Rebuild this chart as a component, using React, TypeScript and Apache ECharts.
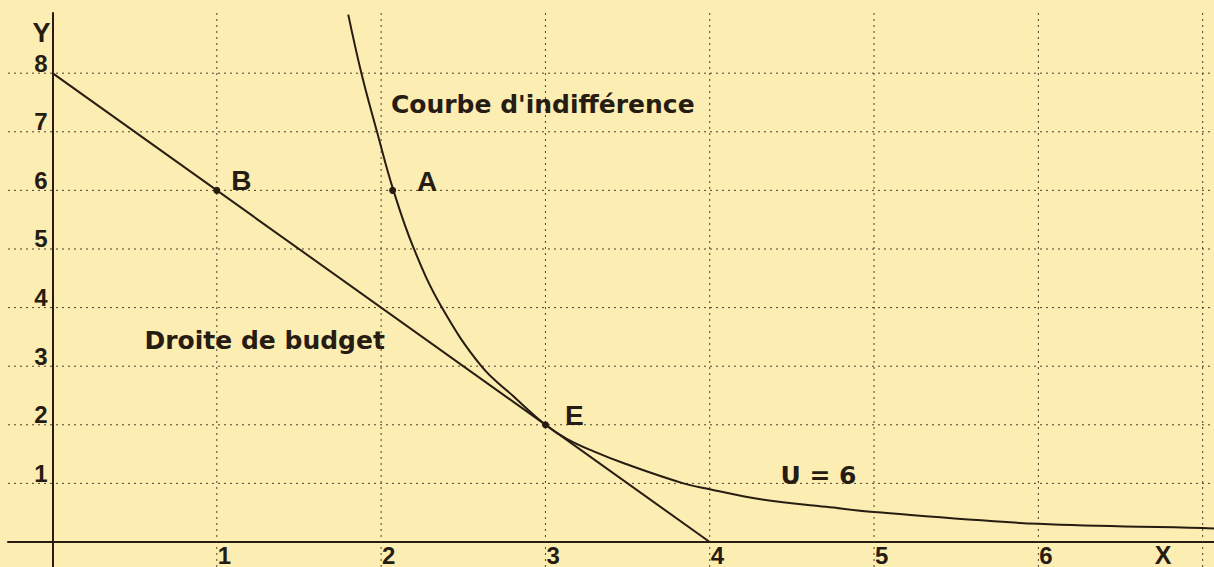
import React, { useEffect, useRef } from "react";
import * as echarts from "echarts";

const xTicks = [1, 2, 3, 4, 5, 6];
const yTicks = [1, 2, 3, 4, 5, 6, 7, 8];
const xGridValues = [1, 2, 3, 4, 5, 6, 7];
const yGridValues = [1, 2, 3, 4, 5, 6, 7, 8];
const xRange = [-0.2708, 7.069];
const yRange = [-0.4266, 9.027];

const budgetLine = [
  [0, 8],
  [4, 0],
];
const indifferenceCurve = [
  [1.8, 9.0],
  [1.88, 8.0],
  [1.975, 7.0],
  [2.075, 6.0],
  [2.2, 5.0],
  [2.37, 4.0],
  [2.61, 3.0],
  [2.8, 2.5],
  [3.0, 2.0],
  [3.13, 1.76],
  [3.29, 1.55],
  [3.49, 1.33],
  [3.84, 1.0],
  [4.0, 0.9],
  [4.31, 0.73],
  [4.71, 0.6],
  [5.0, 0.51],
  [6.0, 0.31],
  [7.0, 0.24],
  [7.07, 0.23],
];
const pointNames = ["B", "A", "E"];
const pointValues = [
  [1, 6],
  [2.07, 6],
  [3, 2],
];
const annotationTexts = ["Courbe d'indifférence", "Droite de budget", "U = 6"];
const annotationAnchors = [
  [2.06, 7.47],
  [0.56, 3.43],
  [4.43, 1.14],
];

const INK = "#261c12";
const PAPER = "#fcedb2";
const ARIAL = "'Liberation Sans', Arial, sans-serif";
const WIDE = "'DejaVu Sans', Verdana, sans-serif";

export default function App() {
  const ref = useRef<HTMLDivElement>(null);

  useEffect(() => {
    if (!ref.current) return;
    const chart = echarts.init(ref.current, null, { renderer: "svg" });

    const gridStyle = {
      color: "#3a2e1e",
      width: 1,
      type: [2, 4] as any,
      opacity: 0.9,
    };

    const vGrid = xGridValues.map((v) => ({
      type: "line",
      data: [
        [v, yRange[0]],
        [v, yRange[1]],
      ],
      symbol: "none",
      silent: true,
      lineStyle: gridStyle,
      z: 1,
    }));
    const hGrid = yGridValues.map((v) => ({
      type: "line",
      data: [
        [xRange[0], v],
        [xRange[1], v],
      ],
      symbol: "none",
      silent: true,
      lineStyle: gridStyle,
      z: 1,
    }));

    const textBase = {
      color: INK,
      fontWeight: "bold",
      opacity: 1,
    };

    chart.setOption({
      animation: false,
      backgroundColor: PAPER,
      grid: { left: 8, right: 0, top: 13, bottom: 0 },
      xAxis: {
        type: "value",
        min: xRange[0],
        max: xRange[1],
        name: "X",
        nameLocation: "end",
        nameGap: -51,
        nameTextStyle: {
          ...textBase,
          fontFamily: ARIAL,
          fontSize: 25,
          align: "center",
          verticalAlign: "top",
          padding: [0, 0, 0, 0],
        },
        axisLine: { show: true, onZero: true, lineStyle: { color: INK, width: 2 } },
        axisTick: { show: false },
        axisLabel: { show: false },
        splitLine: { show: false },
      },
      yAxis: {
        type: "value",
        min: yRange[0],
        max: yRange[1],
        name: "Y",
        nameLocation: "end",
        nameGap: -20,
        nameTextStyle: {
          ...textBase,
          fontFamily: ARIAL,
          fontSize: 27,
          align: "right",
          verticalAlign: "middle",
          padding: [0, 2, 0, 0],
        },
        axisLine: { show: true, onZero: true, lineStyle: { color: INK, width: 2 } },
        axisTick: { show: false },
        axisLabel: { show: false },
        splitLine: { show: false },
      },
      series: [
        ...vGrid,
        ...hGrid,
        {
          name: "Droite de budget",
          type: "line",
          data: budgetLine,
          symbol: "none",
          lineStyle: { color: INK, width: 2 },
          z: 5,
        },
        {
          name: "Courbe d'indifférence",
          type: "line",
          data: indifferenceCurve,
          symbol: "none",
          smooth: 0.4,
          lineStyle: { color: INK, width: 2 },
          z: 5,
        },
        {
          name: "points",
          type: "scatter",
          data: pointValues.map((v, i) => ({ name: pointNames[i], value: v })),
          symbolSize: 7,
          itemStyle: { color: INK, opacity: 1 },
          label: {
            show: true,
            formatter: (p: any) => p.name,
            position: "right",
            ...textBase,
            fontFamily: ARIAL,
            fontSize: 28,
          },
          labelLayout: (p: any) => {
            const offs = [
              [11, -10],
              [21, -9],
              [16, -9],
            ];
            const o = offs[p.dataIndex];
            return {
              x: p.rect.x + p.rect.width + o[0],
              y: p.rect.y + p.rect.height / 2 + o[1],
              align: "left",
              verticalAlign: "middle",
            };
          },
          z: 6,
        },
        {
          name: "annotations",
          type: "scatter",
          silent: true,
          symbolSize: 0,
          itemStyle: { opacity: 1 },
          data: annotationAnchors.map((v, i) => ({ name: annotationTexts[i], value: v })),
          label: {
            show: true,
            position: "right",
            distance: 0,
            formatter: (p: any) => p.name,
            ...textBase,
            fontFamily: WIDE,
            fontSize: 25,
          },
          z: 6,
        },
        {
          name: "xTickLabels",
          type: "scatter",
          silent: true,
          symbolSize: 0,
          itemStyle: { opacity: 1 },
          data: xTicks.map((v) => [v, 0]),
          label: {
            show: true,
            position: "bottom",
            distance: 1,
            align: "left",
            offset: [1, 0],
            formatter: (p: any) => String(p.value[0]),
            ...textBase,
            fontFamily: ARIAL,
            fontSize: 24,
          },
          z: 6,
        },
        {
          name: "yTickLabels",
          type: "scatter",
          silent: true,
          symbolSize: 0,
          itemStyle: { opacity: 1 },
          data: yTicks.map((v) => [0, v]),
          label: {
            show: true,
            position: "left",
            distance: 5,
            verticalAlign: "bottom",
            offset: [0, 2],
            formatter: (p: any) => String(p.value[1]),
            ...textBase,
            fontFamily: ARIAL,
            fontSize: 24,
          },
          z: 6,
        },
      ],
    });

    return () => chart.dispose();
  }, []);

  return (
    <div
      ref={ref}
      style={{
        position: "fixed",
        left: 0,
        top: 0,
        width: 1214,
        height: 567,
        background: PAPER,
      }}
    />
  );
}
